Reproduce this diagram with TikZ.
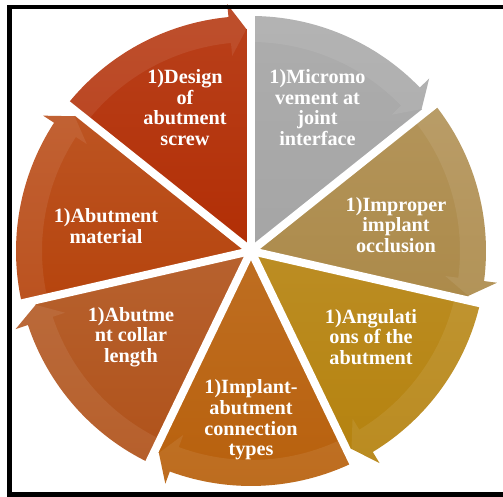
\documentclass[tikz,border=0pt]{standalone}
\usepackage{fontspec}
\setmainfont{Liberation Serif}

\definecolor{cDesign}{HTML}{B22E05}
\definecolor{cMicro}{HTML}{A5A5A5}
\definecolor{cImproper}{HTML}{AC8A4A}
\definecolor{cAngul}{HTML}{B5820E}
\definecolor{cImplant}{HTML}{B8600C}
\definecolor{cCollar}{HTML}{B0521A}
\definecolor{cMaterial}{HTML}{B6440D}

\begin{document}
\begin{tikzpicture}[
        segtext/.style = {white, inner sep = 0pt, align = center, font = \bfseries\fontsize{11.5}{11.7}\selectfont},
        gapline/.style = {white, line width = 0.16cm},
        arrowband/.style = {white, opacity = 0.08},
        frameline/.style = {black, line width = 0.09cm}
    ]
        \useasboundingbox (0,0) rectangle (10.06,9.94);

        % seven wedges, each with a circular arrow on its rim
        \begin{scope}[shift = {(5.02,4.92)}]
        \foreach \c [count=\i from 0] in {cDesign, cMicro, cImproper, cAngul, cImplant, cCollar, cMaterial}{
            \pgfmathsetmacro\ae{90 - \i*360/7}
            \pgfmathsetmacro\as{\ae + 360/7}
            \shade[top color = \c!91!white, bottom color = \c] (0,0) -- (\as:4.70) arc[start angle = \as, end angle = \ae+5.5, radius = 4.70]
                -- ({\ae+5.5}:4.96) -- ({\ae+1.2}:4.44) arc[start angle = \ae+1.2, end angle = \ae, radius = 4.44] -- cycle;
            \fill[arrowband] (\as:4.70) arc[start angle = \as, end angle = \ae+5.5, radius = 4.70]
                -- ({\ae+5.5}:4.96) -- ({\ae+1.2}:4.44) -- ({\ae+5.5}:3.92) -- ({\ae+5.5}:4.18)
                arc[start angle = \ae+5.5, end angle = \as, radius = 4.18] -- cycle;
        }
        \foreach \i in {0,...,6}{
            \draw[gapline] (0,0) -- ({90 + \i*360/7}:5.3);
        }
        \end{scope}

        \node[segtext] (design) at (3.70,7.79) {1)Design\\of\\abutment\\screw};
        \node[segtext] (micro) at (6.35,7.79) {1)Micromo\\vement at\\joint\\interface};
        \node[segtext] (improper) at (7.92,5.44) {1)Improper\\implant\\occlusion};
        \node[segtext] (angul) at (7.42,3.20) {1)Angulati\\ons of the\\abutment};
        \node[segtext] (implant) at (5.02,1.54) {1)Implant-\\abutment\\connection\\types};
        \node[segtext] (collar) at (2.62,3.20) {1)Abutme\\nt collar\\length};
        \node[segtext] (material) at (2.12,5.42) {1)Abutment\\material};

        \draw[frameline] (10.06,9.80) -- (0.19,9.80) -- (0.19,0.05) -- (10.06,0.05);

    \end{tikzpicture}
\end{document}
